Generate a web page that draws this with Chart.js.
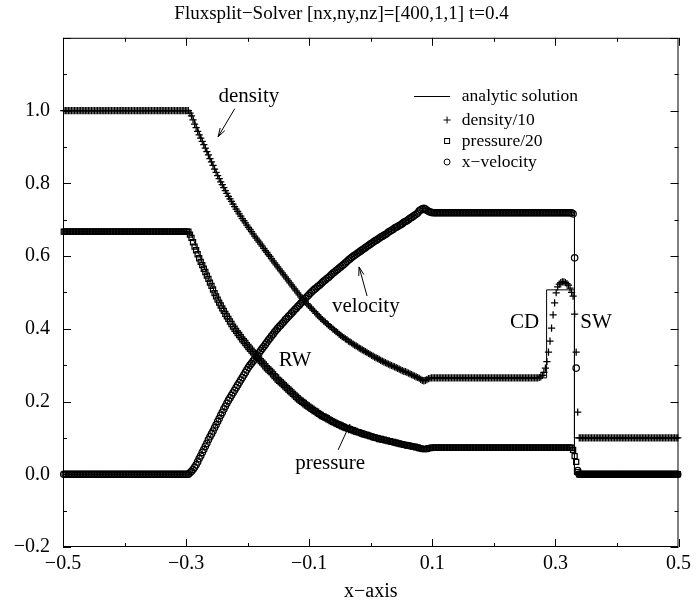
<!DOCTYPE html>
<html>
<head>
<meta charset="utf-8">
<script src="https://cdn.jsdelivr.net/npm/chart.js@4.4.1/dist/chart.umd.min.js"></script>
<style>
    html, body { margin: 0; padding: 0; background: #fff; }
    #wrap { width: 696px; height: 605px; }
</style>
</head>
<body>
<div id="wrap"><canvas id="myChart" width="696" height="605"></canvas></div>
<script>
// solver grid: 400 cell centres on [-0.5, 0.5]
const xCells = Array.from({ length: 400 }, (_, i) => -0.49875 + 0.0025 * i);

// numerical solution, one value per cell
const dens10 = [
    1,1,1,1,1,1,1,1,1,1, 1,1,1,1,1,1,1,1,1,1, 1,1,1,1,1,1,1,1,1,1, 1,1,1,1,1,1,1,1,1,1,
    1,1,1,1,1,1,1,1,1,1, 1,1,1,1,1,1,1,1,1,1, 1,1,1,1,1,1,1,1,1,1, 1,1,1,1,1,1,1,1,1,1,
    1,1,
    0.993,0.985, 0.974,0.963, 0.953,0.943, 0.933,0.924, 0.915,0.906,
    0.897,0.887, 0.878,0.868, 0.859,0.849, 0.839,0.830, 0.821,0.813,
    0.804,0.796, 0.788,0.780, 0.772,0.764, 0.757,0.750, 0.743,0.736,
    0.729,0.723, 0.716,0.710, 0.703,0.697, 0.691,0.685, 0.679,0.673,
    0.667,0.661, 0.655,0.649, 0.644,0.638, 0.633,0.627, 0.621,0.615,
    0.610,0.604, 0.599,0.593, 0.587,0.581, 0.576,0.570, 0.565,0.559,
    0.554,0.548, 0.543,0.537, 0.532,0.526, 0.521,0.515, 0.510,0.504,
    0.499,0.493, 0.488,0.483, 0.478,0.474, 0.469,0.465, 0.460,0.456,
    0.451,0.447, 0.442,0.438, 0.433,0.429, 0.425,0.421, 0.418,0.414,
    0.410,0.406, 0.403,0.399, 0.396,0.392, 0.389,0.385, 0.382,0.378,
    0.376,0.372, 0.370,0.366, 0.364,0.361, 0.358,0.355, 0.353,0.350,
    0.347,0.345, 0.342,0.340, 0.337,0.335, 0.332,0.330, 0.327,0.325,
    0.322,0.320, 0.318,0.316, 0.313,0.311, 0.309,0.307, 0.305,0.303,
    0.301,0.299, 0.297,0.295, 0.293,0.291, 0.289,0.287, 0.285,0.283,
    0.282,0.280, 0.278,0.276, 0.274,0.272, 0.270,0.268, 0.266,0.264,
    0.261,0.258, 0.257,0.258, 0.260,0.263, 0.264,0.265,
    0.265,0.265,0.265,0.265,0.265,0.265,0.265,0.265,0.265,0.265,
    0.265,0.265,0.265,0.265,0.265,0.265,0.265,0.265,0.265,0.265,
    0.265,0.265,0.265,0.265,0.265,0.265,0.265,0.265,0.265,0.265,
    0.265,0.265,0.265,0.265,0.265,0.265,0.265,0.265,0.265,0.265,
    0.265,0.265,0.265,0.265,0.265,0.265,0.265,0.265,0.265,0.265,
    0.265,0.265,0.265,0.265,0.265,0.265,0.265,0.265,0.265,0.265,
    0.265,0.265,0.265,0.265,0.265,0.265,0.265,0.265,0.265,
    0.266,0.268,0.272,0.28,0.292,0.31,0.336,0.366,0.402,0.438,
    0.471,0.499,0.515,0.523,0.527,0.529,0.529,0.527,0.524,0.52,
    0.512,0.5,0.49,0.44,0.336,0.171,
    0.1,0.1,0.1,0.1,0.1,0.1,0.1,0.1,0.1,0.1, 0.1,0.1,0.1,0.1,0.1,0.1,0.1,0.1,0.1,0.1,
    0.1,0.1,0.1,0.1,0.1,0.1,0.1,0.1,0.1,0.1, 0.1,0.1,0.1,0.1,0.1,0.1,0.1,0.1,0.1,0.1,
    0.1,0.1,0.1,0.1,0.1,0.1,0.1,0.1,0.1,0.1, 0.1,0.1,0.1,0.1,0.1,0.1,0.1,0.1,0.1,0.1,
    0.1,0.1,0.1,0.1,0.1
];
const pres20 = [
    0.667,0.667,0.667,0.667,0.667,0.667,0.667,0.667,0.667,0.667,
    0.667,0.667,0.667,0.667,0.667,0.667,0.667,0.667,0.667,0.667,
    0.667,0.667,0.667,0.667,0.667,0.667,0.667,0.667,0.667,0.667,
    0.667,0.667,0.667,0.667,0.667,0.667,0.667,0.667,0.667,0.667,
    0.667,0.667,0.667,0.667,0.667,0.667,0.667,0.667,0.667,0.667,
    0.667,0.667,0.667,0.667,0.667,0.667,0.667,0.667,0.667,0.667,
    0.667,0.667,0.667,0.667,0.667,0.667,0.667,0.667,0.667,0.667,
    0.667,0.667,0.667,0.667,0.667,0.667,0.667,0.667,0.667,0.667,
    0.667,0.667,
    0.659,0.650, 0.638,0.626, 0.616,0.605, 0.594,0.584, 0.575,0.565,
    0.556,0.546, 0.537,0.527, 0.518,0.508, 0.498,0.489, 0.480,0.472,
    0.464,0.456, 0.449,0.441, 0.434,0.427, 0.420,0.413, 0.406,0.400,
    0.394,0.388, 0.383,0.377, 0.371,0.366, 0.361,0.355, 0.350,0.345,
    0.340,0.335, 0.330,0.325, 0.320,0.316, 0.311,0.307, 0.302,0.297,
    0.292,0.288, 0.284,0.280, 0.275,0.270, 0.266,0.260, 0.257,0.253,
    0.249,0.245, 0.241,0.237, 0.233,0.229, 0.225,0.221, 0.217,0.213,
    0.209,0.205, 0.202,0.199, 0.196,0.192, 0.189,0.186, 0.183,0.180,
    0.177,0.174, 0.172,0.168, 0.166,0.163, 0.160,0.158, 0.156,0.154,
    0.151,0.149, 0.146,0.144, 0.142,0.140, 0.138,0.136, 0.134,0.132,
    0.130,0.128, 0.127,0.125, 0.124,0.122, 0.121,0.119, 0.117,0.116,
    0.115,0.113, 0.112,0.110, 0.109,0.108, 0.107,0.105, 0.104,0.102,
    0.101,0.100, 0.099,0.097, 0.097,0.095, 0.095,0.093, 0.093,0.091,
    0.091,0.089, 0.089,0.087, 0.087,0.085, 0.085,0.083, 0.083,0.081,
    0.081,0.079, 0.079,0.078, 0.077,0.076, 0.076,0.074, 0.074,0.072,
    0.071,0.070, 0.069,0.069, 0.070,0.072, 0.072,0.073,
    0.073,0.073,0.073,0.073,0.073,0.073,0.073,0.073,0.073,0.073,
    0.073,0.073,0.073,0.073,0.073,0.073,0.073,0.073,0.073,0.073,
    0.073,0.073,0.073,0.073,0.073,0.073,0.073,0.073,0.073,0.073,
    0.073,0.073,0.073,0.073,0.073,0.073,0.073,0.073,0.073,0.073,
    0.073,0.073,0.073,0.073,0.073,0.073,0.073,0.073,0.073,0.073,
    0.073,0.073,0.073,0.073,0.073,0.073,0.073,0.073,0.073,0.073,
    0.073,0.073,0.073,0.073,0.073,0.073,0.073,0.073,0.073,0.073,
    0.073,0.073,0.073,0.073,0.073,0.073,0.073,0.073,0.073,0.073,
    0.073,0.073,0.073,0.073,0.073,0.073,0.073,0.073,0.073,0.073,
    0.073,
    0.067,0.05,0.034,0.006,
    0,0,0,0,0,0,0,0,0,0, 0,0,0,0,0,0,0,0,0,0, 0,0,0,0,0,0,0,0,0,0,
    0,0,0,0,0,0,0,0,0,0, 0,0,0,0,0,0,0,0,0,0, 0,0,0,0,0,0,0,0,0,0,
    0,0,0,0,0
];
const velx = [
    0,0,0,0,0,0,0,0,0,0, 0,0,0,0,0,0,0,0,0,0, 0,0,0,0,0,0,0,0,0,0, 0,0,0,0,0,0,0,0,0,0,
    0,0,0,0,0,0,0,0,0,0, 0,0,0,0,0,0,0,0,0,0, 0,0,0,0,0,0,0,0,0,0, 0,0,0,0,0,0,0,0,0,0,
    0,0,
    0.004,0.008, 0.013,0.019, 0.026,0.034, 0.043,0.051, 0.060,0.068,
    0.077,0.085, 0.095,0.103, 0.111,0.119, 0.128,0.136, 0.145,0.153,
    0.162,0.170, 0.179,0.187, 0.195,0.203, 0.210,0.217, 0.224,0.231,
    0.238,0.245, 0.252,0.259, 0.266,0.273, 0.280,0.287, 0.294,0.300,
    0.305,0.311, 0.317,0.323, 0.328,0.334, 0.340,0.346, 0.351,0.357,
    0.363,0.369, 0.374,0.380, 0.385,0.391, 0.396,0.401, 0.406,0.410,
    0.415,0.419, 0.425,0.429, 0.434,0.438, 0.443,0.447, 0.452,0.456,
    0.461,0.465, 0.470,0.474, 0.479,0.483, 0.488,0.492, 0.497,0.501,
    0.505,0.509, 0.512,0.516, 0.519,0.523, 0.527,0.531, 0.534,0.538,
    0.541,0.545, 0.549,0.553, 0.556,0.560, 0.563,0.567, 0.570,0.574,
    0.577,0.581, 0.585,0.589, 0.592,0.596, 0.599,0.602, 0.605,0.608,
    0.611,0.614, 0.617,0.620, 0.623,0.626, 0.629,0.632, 0.635,0.638,
    0.641,0.643, 0.646,0.649, 0.652,0.654, 0.657,0.659, 0.662,0.666,
    0.668,0.671, 0.673,0.677, 0.679,0.681, 0.684,0.686, 0.689,0.693,
    0.695,0.697, 0.700,0.704, 0.706,0.709, 0.712,0.715, 0.718,0.724,
    0.727,0.730, 0.731,0.729, 0.726,0.723, 0.721,0.720,
    0.719,0.719,0.719,0.719,0.719,0.719,0.719,0.719,0.719,0.719,
    0.719,0.719,0.719,0.719,0.719,0.719,0.719,0.719,0.719,0.719,
    0.719,0.719,0.719,0.719,0.719,0.719,0.719,0.719,0.719,0.719,
    0.719,0.719,0.719,0.719,0.719,0.719,0.719,0.719,0.719,0.719,
    0.719,0.719,0.719,0.719,0.719,0.719,0.719,0.719,0.719,0.719,
    0.719,0.719,0.719,0.719,0.719,0.719,0.719,0.719,0.719,0.719,
    0.719,0.719,0.719,0.719,0.719,0.719,0.719,0.719,0.719,0.719,
    0.719,0.719,0.719,0.719,0.719,0.719,0.719,0.719,0.719,0.719,
    0.719,0.719,0.719,0.719,0.719,0.719,0.719,0.719,0.719,0.719,
    0.719,
    0.716,0.595,0.292,0.01,
    0,0,0,0,0,0,0,0,0,0, 0,0,0,0,0,0,0,0,0,0, 0,0,0,0,0,0,0,0,0,0,
    0,0,0,0,0,0,0,0,0,0, 0,0,0,0,0,0,0,0,0,0, 0,0,0,0,0,0,0,0,0,0,
    0,0,0,0,0
];

// analytic solution (breakpoints)
const exactDensX = [-0.5, -0.293, -0.2617, -0.2321, -0.1964, -0.1526, -0.0985, -0.031, 0.0089, 0.0536, 0.0668, 0.078, 0.2857, 0.2857, 0.331, 0.331, 0.5];
const exactDens  = [1, 1, 0.870, 0.767, 0.673, 0.574, 0.460, 0.361, 0.320, 0.283, 0.274, 0.265, 0.265, 0.507, 0.507, 0.1, 0.1];
const exactX     = [-0.5, -0.293, -0.2617, -0.2321, -0.1964, -0.1526, -0.0985, -0.031, 0.0089, 0.0536, 0.0668, 0.078, 0.331, 0.331, 0.5];
const exactPres  = [0.667, 0.667, 0.529, 0.429, 0.345, 0.264, 0.183, 0.122, 0.099, 0.081, 0.077, 0.073, 0.073, 0, 0];
const exactVel   = [0, 0, 0.101, 0.200, 0.300, 0.399, 0.497, 0.596, 0.643, 0.691, 0.706, 0.719, 0.719, 0, 0];

const xTickValues = [-0.5, -0.3, -0.1, 0.1, 0.3, 0.5];
const xTickLabels = ['−0.5', '−0.3', '−0.1', '0.1', '0.3', '0.5'];
const xMinorTicks = [-0.4, -0.2, 0, 0.2, 0.4];
const yTickValues = [-0.2, 0, 0.2, 0.4, 0.6, 0.8, 1.0, 1.2];
const yTickLabels = ['−0.2', '0.0', '0.2', '0.4', '0.6', '0.8', '1.0', ''];
const yMinorTicks = [-0.1, 0.1, 0.3, 0.5, 0.7, 0.9, 1.1];

const legendLabels = ['analytic solution', 'density/10', 'pressure/20', 'x−velocity'];

const FONT = 'Liberation Serif, Times New Roman, serif';

// text labels and arrows inside the plot, in data units
const notes = [
    { text: 'density',  x: -0.198, y: 1.038 },
    { text: 'velocity', x: -0.008, y: 0.460 },
    { text: 'RW',       x: -0.123, y: 0.314 },
    { text: 'pressure', x: -0.066, y: 0.030 },
    { text: 'CD',       x: 0.250,  y: 0.416 },
    { text: 'SW',       x: 0.366,  y: 0.416 }
];
const arrows = [
    { from: [-0.221, 1.005], to: [-0.248, 0.928] },
    { from: [-0.006, 0.490], to: [-0.019, 0.570] },
    { from: [-0.053, 0.067], to: [-0.034, 0.137] }
];

const toPoints = (xs, ys) => xs.map((x, i) => ({ x: x, y: ys[i] }));

function labelFor(values, labels, v) {
    const i = values.findIndex(t => Math.abs(t - v) < 1e-9);
    return i === -1 ? '' : labels[i];
}

const framePlugin = {
    id: 'frame',
    afterDraw(chart) {
        const { ctx, chartArea: a, scales } = chart;
        const sx = scales.x, sy = scales.y;
        ctx.save();
        ctx.strokeStyle = '#000';
        ctx.lineWidth = 1;
        ctx.strokeRect(a.left + 0.5, a.top + 0.5, a.right - a.left - 1, a.bottom - a.top - 1);

        ctx.beginPath();
        const xTick = (v, len) => {
            const p = Math.round(sx.getPixelForValue(v)) + 0.5;
            ctx.moveTo(p, a.bottom); ctx.lineTo(p, a.bottom - len);
            ctx.moveTo(p, a.top); ctx.lineTo(p, a.top + len);
        };
        const yTick = (v, len) => {
            const p = Math.round(sy.getPixelForValue(v)) + 0.5;
            ctx.moveTo(a.left, p); ctx.lineTo(a.left + len, p);
            ctx.moveTo(a.right, p); ctx.lineTo(a.right - len, p);
        };
        xTickValues.forEach(v => xTick(v, 8));
        xMinorTicks.forEach(v => xTick(v, 4));
        yTickValues.forEach(v => yTick(v, 8));
        yMinorTicks.forEach(v => yTick(v, 4));
        ctx.stroke();

        // annotations
        ctx.fillStyle = '#000';
        ctx.font = '21px ' + FONT;
        ctx.textAlign = 'center';
        ctx.textBaseline = 'middle';
        notes.forEach(n => ctx.fillText(n.text, sx.getPixelForValue(n.x), sy.getPixelForValue(n.y)));

        arrows.forEach(ar => {
            const x1 = sx.getPixelForValue(ar.from[0]), y1 = sy.getPixelForValue(ar.from[1]);
            const x2 = sx.getPixelForValue(ar.to[0]), y2 = sy.getPixelForValue(ar.to[1]);
            const ang = Math.atan2(y2 - y1, x2 - x1);
            ctx.beginPath();
            ctx.moveTo(x1, y1); ctx.lineTo(x2, y2);
            ctx.moveTo(x2 - 9 * Math.cos(ang - 0.3), y2 - 9 * Math.sin(ang - 0.3));
            ctx.lineTo(x2, y2);
            ctx.lineTo(x2 - 9 * Math.cos(ang + 0.3), y2 - 9 * Math.sin(ang + 0.3));
            ctx.stroke();
        });

        // legend
        const lx = sx.getPixelForValue(0.124);
        const tx = sx.getPixelForValue(0.148);
        const rows = [96, 120, 141, 162];
        ctx.font = '17.5px ' + FONT;
        ctx.textAlign = 'left';
        ctx.beginPath();
        ctx.moveTo(lx - 33, rows[0] + 0.5); ctx.lineTo(lx + 3, rows[0] + 0.5);
        ctx.moveTo(lx - 3.5, rows[1]); ctx.lineTo(lx + 3.5, rows[1]);
        ctx.moveTo(lx, rows[1] - 3.5); ctx.lineTo(lx, rows[1] + 3.5);
        ctx.stroke();
        ctx.strokeRect(lx - 2.5, rows[2] - 2.5, 5, 5);
        ctx.beginPath();
        ctx.arc(lx, rows[3], 3, 0, Math.PI * 2);
        ctx.stroke();
        legendLabels.forEach((t, i) => ctx.fillText(t, tx, rows[i]));
        ctx.restore();
    }
};

const markerBase = {
    showLine: false,
    borderColor: '#000',
    pointBorderColor: '#000',
    pointBackgroundColor: 'rgba(0,0,0,0)',
    pointBorderWidth: 1.25,
    clip: false
};
const lineBase = {
    showLine: true,
    borderColor: '#000',
    borderWidth: 1,
    pointRadius: 0,
    tension: 0,
    fill: false
};

new Chart('myChart', {
    type: 'scatter',
    data: {
        datasets: [
            { ...lineBase, label: 'analytic density', data: toPoints(exactDensX, exactDens) },
            { ...lineBase, label: 'analytic pressure', data: toPoints(exactX, exactPres) },
            { ...lineBase, label: 'analytic velocity', data: toPoints(exactX, exactVel) },
            { ...markerBase, label: 'density/10', data: toPoints(xCells, dens10), pointStyle: 'cross', pointRadius: 3.6 },
            { ...markerBase, label: 'pressure/20', data: toPoints(xCells, pres20), pointStyle: 'rect', pointRadius: 3.6 },
            { ...markerBase, label: 'x−velocity', data: toPoints(xCells, velx), pointStyle: 'circle', pointRadius: 3.2 }
        ]
    },
    options: {
        responsive: false,
        animation: false,
        devicePixelRatio: 1,
        layout: { padding: { top: 0, right: 13, bottom: 0, left: 0 } },
        plugins: {
            legend: { display: false },
            tooltip: { enabled: false },
            title: {
                display: true,
                text: 'Fluxsplit−Solver [nx,ny,nz]=[400,1,1] t=0.4',
                color: '#000',
                font: { family: FONT, size: 19, weight: 'normal' },
                padding: { top: 3, bottom: 12 }
            }
        },
        scales: {
            x: {
                type: 'linear',
                min: -0.5,
                max: 0.5,
                afterBuildTicks: s => { s.ticks = xTickValues.map(v => ({ value: v })); },
                afterFit: s => { s.height = 58; },
                ticks: {
                    autoSkip: false,
                    maxRotation: 0,
                    padding: 5,
                    color: '#000',
                    font: { family: FONT, size: 20 },
                    callback: v => labelFor(xTickValues, xTickLabels, v)
                },
                grid: { display: false, drawTicks: false },
                border: { display: false },
                title: {
                    display: true,
                    text: 'x−axis',
                    color: '#000',
                    font: { family: FONT, size: 20 },
                    padding: { top: 0, bottom: 1 }
                }
            },
            y: {
                type: 'linear',
                min: -0.2,
                max: 1.2,
                afterBuildTicks: s => { s.ticks = yTickValues.map(v => ({ value: v })); },
                afterFit: s => { s.width = 63; },
                ticks: {
                    autoSkip: false,
                    padding: 13,
                    color: '#000',
                    font: { family: FONT, size: 20 },
                    callback: v => labelFor(yTickValues, yTickLabels, v)
                },
                grid: { display: false, drawTicks: false },
                border: { display: false }
            }
        }
    },
    plugins: [framePlugin]
});
</script>
</body>
</html>
